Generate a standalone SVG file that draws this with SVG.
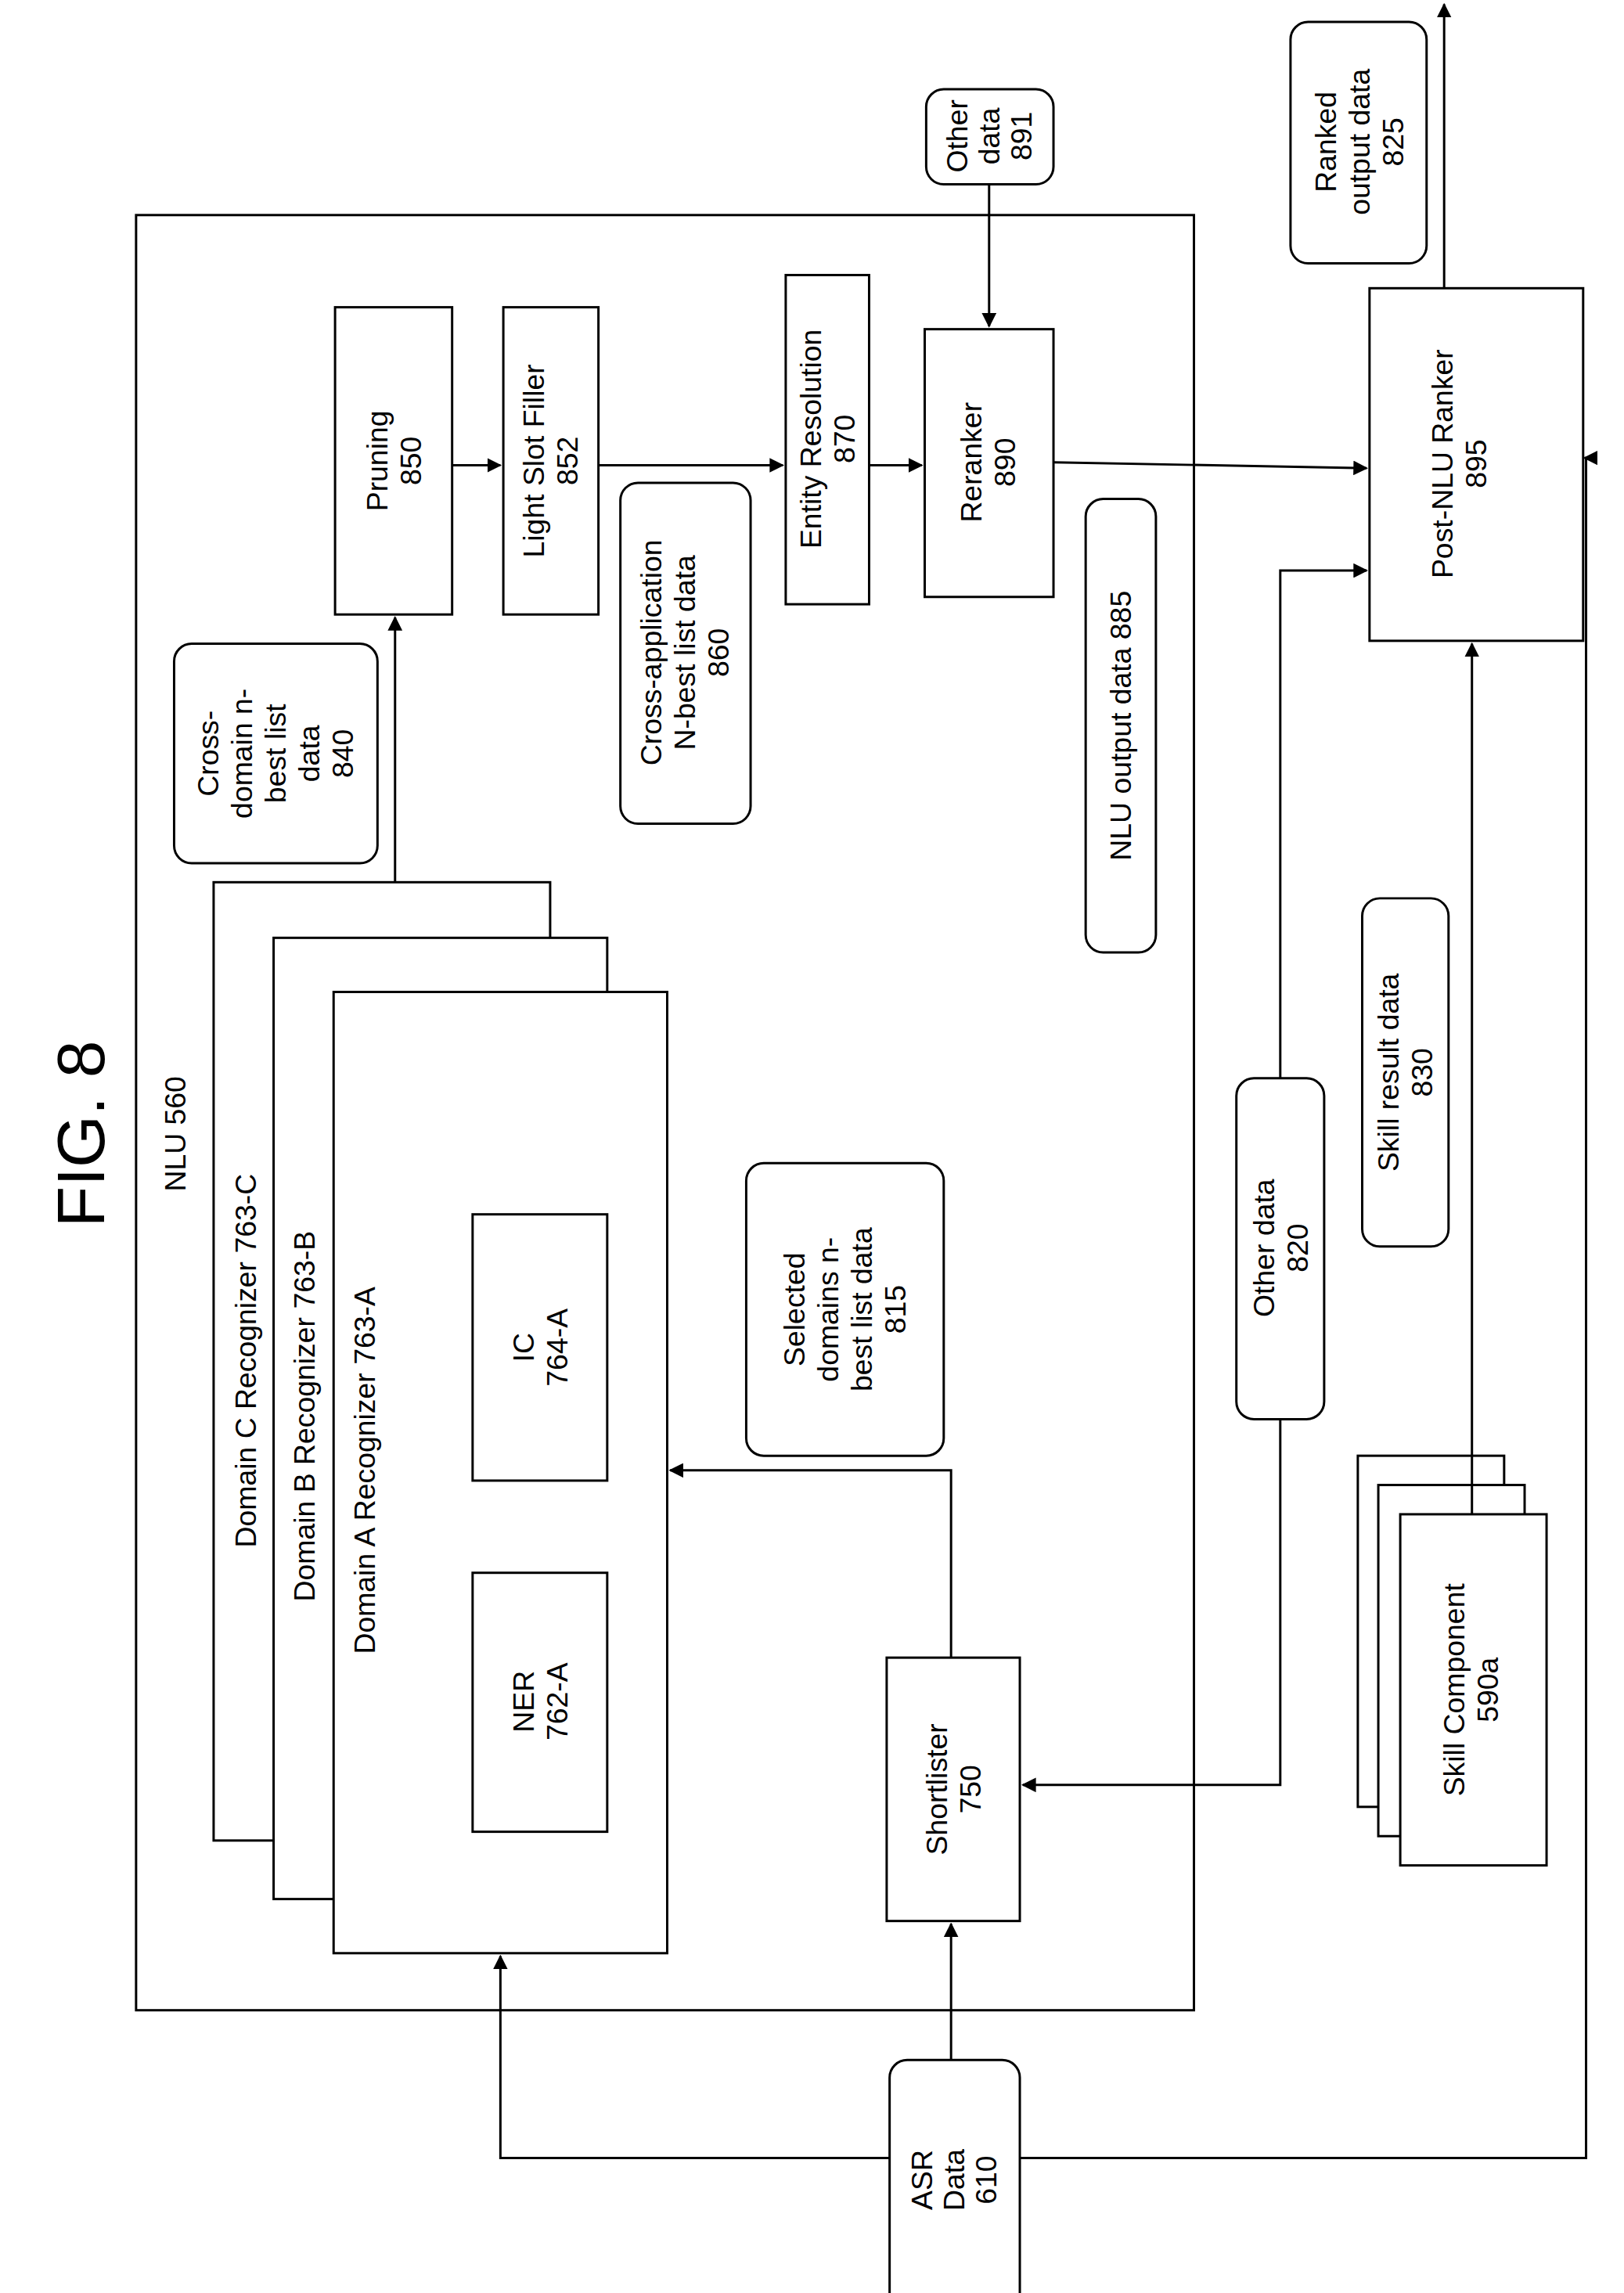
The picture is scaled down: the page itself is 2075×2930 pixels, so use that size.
<svg xmlns="http://www.w3.org/2000/svg" width="2075" height="2930" viewBox="0 0 2075 2930">
<style>
.b{fill:#fff;stroke:#000;stroke-width:1.6}
.t{font-family:"Liberation Sans",Arial,sans-serif;font-size:20px;text-anchor:middle;fill:#000}
.c{fill:none;stroke:#000;stroke-width:1.6}
</style>
<defs><marker id="a" markerWidth="10" markerHeight="10" refX="9" refY="5" orient="auto" markerUnits="userSpaceOnUse" viewBox="0 0 10 10"><path d="M0,0L10,5L0,10z" fill="#000"/></marker></defs>
<rect width="2075" height="2930" fill="#fff"/>
<g transform="scale(1.8695)">
<g id="title"><text class="t" style="font-size:46px" transform="translate(55,775) rotate(-90)" dy="0.35em">FIG. 8</text></g>
<g id="nlu"><rect class="b" x="93" y="147" width="723" height="1227"/><text class="t" transform="translate(120,775) rotate(-90)" dy="0.35em">NLU 560</text></g>
<g id="domC"><rect class="b" x="146" y="603" width="230" height="655"/><text class="t" transform="translate(168,930) rotate(-90)" dy="0.35em">Domain C Recognizer 763-C</text></g>
<g id="domB"><rect class="b" x="187" y="641" width="228" height="657"/><text class="t" transform="translate(208,968) rotate(-90)" dy="0.35em">Domain B Recognizer 763-B</text></g>
<g id="domA"><rect class="b" x="228" y="678" width="228" height="657"/><text class="t" transform="translate(249,1005) rotate(-90)" dy="0.35em">Domain A Recognizer 763-A</text></g>
<g id="ic"><rect class="b" x="323" y="830" width="92" height="182"/><text class="t" transform="translate(358,921) rotate(-90)" dy="0.35em">IC</text><text class="t" transform="translate(381,921) rotate(-90)" dy="0.35em">764-A</text></g>
<g id="ner"><rect class="b" x="323" y="1075" width="92" height="177"/><text class="t" transform="translate(358,1163) rotate(-90)" dy="0.35em">NER</text><text class="t" transform="translate(381,1163) rotate(-90)" dy="0.35em">762-A</text></g>
<g id="short"><rect class="b" x="606" y="1133" width="91" height="180"/><text class="t" transform="translate(640,1223) rotate(-90)" dy="0.35em">Shortlister</text><text class="t" transform="translate(663,1223) rotate(-90)" dy="0.35em">750</text></g>
<g id="asr"><rect class="b" x="608" y="1408" width="89" height="175" rx="12"/><text class="t" transform="translate(630,1490) rotate(-90)" dy="0.35em">ASR</text><text class="t" transform="translate(652,1490) rotate(-90)" dy="0.35em">Data</text><text class="t" transform="translate(674,1490) rotate(-90)" dy="0.35em">610</text></g>
<g id="sel"><rect class="b" x="510" y="795" width="135" height="200" rx="12"/><text class="t" transform="translate(543,895) rotate(-90)" dy="0.35em">Selected</text><text class="t" transform="translate(566,895) rotate(-90)" dy="0.35em">domains n-</text><text class="t" transform="translate(589,895) rotate(-90)" dy="0.35em">best list data</text><text class="t" transform="translate(612,895) rotate(-90)" dy="0.35em">815</text></g>
<g id="cross"><rect class="b" x="119" y="440" width="139" height="150" rx="12"/><text class="t" transform="translate(142,515) rotate(-90)" dy="0.35em">Cross-</text><text class="t" transform="translate(165,515) rotate(-90)" dy="0.35em">domain n-</text><text class="t" transform="translate(188,515) rotate(-90)" dy="0.35em">best list</text><text class="t" transform="translate(211,515) rotate(-90)" dy="0.35em">data</text><text class="t" transform="translate(234,515) rotate(-90)" dy="0.35em">840</text></g>
<g id="prune"><rect class="b" x="229" y="210" width="80" height="210"/><text class="t" transform="translate(258,315) rotate(-90)" dy="0.35em">Pruning</text><text class="t" transform="translate(281,315) rotate(-90)" dy="0.35em">850</text></g>
<g id="lsf"><rect class="b" x="344" y="210" width="65" height="210"/><text class="t" transform="translate(365,315) rotate(-90)" dy="0.35em">Light Slot Filler</text><text class="t" transform="translate(388,315) rotate(-90)" dy="0.35em">852</text></g>
<g id="capp"><rect class="b" x="424" y="330" width="89" height="233" rx="12"/><text class="t" transform="translate(445,446) rotate(-90)" dy="0.35em">Cross-application</text><text class="t" transform="translate(468,446) rotate(-90)" dy="0.35em">N-best list data</text><text class="t" transform="translate(491,446) rotate(-90)" dy="0.35em">860</text></g>
<g id="er"><rect class="b" x="537" y="188" width="57" height="225"/><text class="t" transform="translate(554,300) rotate(-90)" dy="0.35em">Entity Resolution</text><text class="t" transform="translate(577,300) rotate(-90)" dy="0.35em">870</text></g>
<g id="rr"><rect class="b" x="632" y="225" width="88" height="183"/><text class="t" transform="translate(664,316) rotate(-90)" dy="0.35em">Reranker</text><text class="t" transform="translate(687,316) rotate(-90)" dy="0.35em">890</text></g>
<g id="od891"><rect class="b" x="633" y="61" width="87" height="65" rx="12"/><text class="t" transform="translate(654,93) rotate(-90)" dy="0.35em">Other</text><text class="t" transform="translate(676,93) rotate(-90)" dy="0.35em">data</text><text class="t" transform="translate(698,93) rotate(-90)" dy="0.35em">891</text></g>
<g id="nluout"><rect class="b" x="742" y="341" width="48" height="310" rx="12"/><text class="t" transform="translate(766,496) rotate(-90)" dy="0.35em">NLU output data 885</text></g>
<g id="od820"><rect class="b" x="845" y="737" width="60" height="233" rx="12"/><text class="t" transform="translate(864,853) rotate(-90)" dy="0.35em">Other data</text><text class="t" transform="translate(887,853) rotate(-90)" dy="0.35em">820</text></g>
<g id="srd"><rect class="b" x="931" y="614" width="59" height="238" rx="12"/><text class="t" transform="translate(949,733) rotate(-90)" dy="0.35em">Skill result data</text><text class="t" transform="translate(972,733) rotate(-90)" dy="0.35em">830</text></g>
<g id="skill"><rect class="b" x="928" y="995" width="100" height="240"/><rect class="b" x="942" y="1015" width="100" height="240"/><rect class="b" x="957" y="1035" width="100" height="240"/><text class="t" transform="translate(994,1155) rotate(-90)" dy="0.35em">Skill Component</text><text class="t" transform="translate(1017,1155) rotate(-90)" dy="0.35em">590a</text></g>
<g id="post"><rect class="b" x="936" y="197" width="146" height="241"/><text class="t" transform="translate(986,317) rotate(-90)" dy="0.35em">Post-NLU Ranker</text><text class="t" transform="translate(1009,317) rotate(-90)" dy="0.35em">895</text></g>
<g id="rod"><rect class="b" x="882" y="15" width="93" height="165" rx="12"/><text class="t" transform="translate(906,97) rotate(-90)" dy="0.35em">Ranked</text><text class="t" transform="translate(929,97) rotate(-90)" dy="0.35em">output data</text><text class="t" transform="translate(952,97) rotate(-90)" dy="0.35em">825</text></g>
<g id="connectors">
<path class="c" d="M608,1475H342V1337" marker-end="url(#a)"/>
<path class="c" d="M697,1475H1084V313H1084" /><path class="c" d="M1084,313H1084L1084,313" /><path class="c" d="M1084,313H1083" marker-end="url(#a)"/>
<path class="c" d="M650,1408V1315" marker-end="url(#a)"/>
<path class="c" d="M650,1133V1005H458" marker-end="url(#a)"/>
<path class="c" d="M875,970V1220H699" marker-end="url(#a)"/>
<path class="c" d="M875,737V390H934" marker-end="url(#a)"/>
<path class="c" d="M1006,1035V440" marker-end="url(#a)"/>
<path class="c" d="M270,603V422" marker-end="url(#a)"/>
<path class="c" d="M309,318H342" marker-end="url(#a)"/>
<path class="c" d="M409,318H535" marker-end="url(#a)"/>
<path class="c" d="M594,318H630" marker-end="url(#a)"/>
<path class="c" d="M676,126V223" marker-end="url(#a)"/>
<path class="c" d="M720,316L934,320" marker-end="url(#a)"/>
<path class="c" d="M987,197V3" marker-end="url(#a)"/>
</g>
</g>
</svg>
